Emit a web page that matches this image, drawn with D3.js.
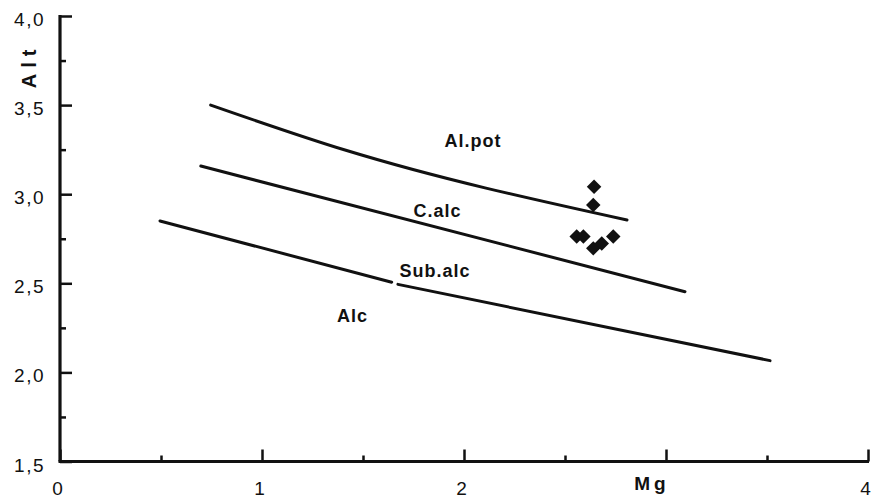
<!DOCTYPE html>
<html>
<head>
<meta charset="utf-8">
<script src="https://cdn.jsdelivr.net/npm/d3@7"></script>
<style>
  body { margin: 0; background: #ffffff; }
  text { font-family: "Liberation Sans", Arial, Helvetica, sans-serif; fill: #111; }
</style>
</head>
<body>
<div id="wrapper"></div>
<script>
// boundary lines (Mg, Alt)
const alPotLine = [[0.746, 3.50], [1.411, 3.248], [2.807, 2.855]];
const cAlcLine = [[0.697, 3.158], [3.094, 2.453]];
const alcLineLeft = [[0.495, 2.850], [1.642, 2.506]];
const alcLineRight = [[1.673, 2.494], [3.515, 2.066]];

// samples
const sampleMg = [2.644, 2.640, 2.558, 2.591, 2.640, 2.682, 2.739];
const sampleAlt = [3.042, 2.939, 2.762, 2.762, 2.696, 2.724, 2.762];

// ticks
const xTicks = [0, 1, 2, 4];
const xMinorTicks = [0.5, 1.5, 2.5, 3.5];
const yTicks = [1.5, 2.0, 2.5, 3.0, 3.5, 4.0];
const yTickLabels = ["1,5", "2,0", "2,5", "3,0", "3,5", "4,0"];
const yMinorTicks = [1.75, 2.25, 2.75, 3.25, 3.75];

// field names
const fieldNames = ["Al.pot", "C.alc", "Sub.alc", "Alc"];
const fieldMg = [2.045, 1.869, 1.856, 1.448];
const fieldAlt = [3.267, 2.872, 2.535, 2.283];

dimensions = {
  width: 879,
  height: 504,
  margin: {top: 16, left: 60, bottom: 42.5, right: 11}
}
dimensions.boundedWidth = dimensions.width - dimensions.margin.left - dimensions.margin.right;
dimensions.boundedHeight = dimensions.height - dimensions.margin.top - dimensions.margin.bottom;

wrapper = d3.select("#wrapper").append("svg")
  .attr("width", dimensions.width)
  .attr("height", dimensions.height);
wrapper.append("rect").attr("width", dimensions.width).attr("height", dimensions.height).attr("fill", "#fff");
container = wrapper.append("g")
  .attr("transform", `translate(${dimensions.margin.left}, ${dimensions.margin.top})`);

xScale = d3.scaleLinear().domain([0, 4]).range([0, dimensions.boundedWidth]);
yScale = d3.scaleLinear().domain([1.5, 4]).range([dimensions.boundedHeight, 0]);

// axes: ticks point inward
const xMajor = d3.axisBottom(xScale).tickValues([0, 1, 2, 3, 4]).tickSize(-12).tickFormat("");
const xMinor = d3.axisBottom(xScale).tickValues(xMinorTicks).tickSize(-6).tickFormat("");
const yMajor = d3.axisLeft(yScale).tickValues(yTicks).tickSize(-12).tickFormat("");
const yMinor = d3.axisLeft(yScale).tickValues(yMinorTicks).tickSize(-6).tickFormat("");

[xMajor, xMinor].forEach(ax => {
  container.append("g")
    .attr("transform", `translate(0, ${dimensions.boundedHeight})`)
    .call(ax);
});
[yMajor, yMinor].forEach(ax => {
  container.append("g").call(ax);
});
container.selectAll(".tick line").attr("stroke", "#111").attr("stroke-width", 2.5);
container.selectAll(".domain").remove();

// axis lines
container.append("line")
  .attr("x1", -1.5).attr("x2", xScale(4) + 1)
  .attr("y1", yScale(1.5)).attr("y2", yScale(1.5))
  .attr("stroke", "#111").attr("stroke-width", 3.2);
container.append("line")
  .attr("x1", 0).attr("x2", 0)
  .attr("y1", yScale(1.5)).attr("y2", yScale(4) - 1)
  .attr("stroke", "#111").attr("stroke-width", 3.2);

// tick labels
container.selectAll(".xlab")
  .data(xTicks)
  .enter()
  .append("text")
  .attr("class", "xlab")
  .attr("x", d => xScale(d) - 2)
  .attr("y", dimensions.boundedHeight + 33)
  .attr("text-anchor", "middle")
  .style("font-size", "19px")
  .style("letter-spacing", "1px")
  .text(d => d);

container.selectAll(".ylab")
  .data(yTicks)
  .enter()
  .append("text")
  .attr("class", "ylab")
  .attr("x", -15)
  .attr("y", d => yScale(d) + 10)
  .attr("text-anchor", "end")
  .style("font-size", "19px")
  .style("letter-spacing", "1.5px")
  .text((d, i) => yTickLabels[i]);

// axis titles
container.append("text")
  .attr("x", xScale(3) - 14)
  .attr("y", dimensions.boundedHeight + 28)
  .attr("text-anchor", "middle")
  .style("font-size", "19px")
  .style("font-weight", "bold")
  .style("letter-spacing", "4px")
  .text("Mg");
container.append("text")
  .attr("transform", `translate(${-24}, ${yScale(3.72)}) rotate(-90)`)
  .attr("text-anchor", "middle")
  .style("font-size", "20px")
  .style("font-weight", "bold")
  .style("letter-spacing", "6px")
  .text("Alt");

// boundary lines
const line = d3.line().x(d => xScale(d[0])).y(d => yScale(d[1])).curve(d3.curveMonotoneX);
[alPotLine, cAlcLine, alcLineLeft, alcLineRight].forEach(l => {
  container.append("path")
    .attr("d", line(l))
    .attr("fill", "none")
    .attr("stroke", "#111")
    .attr("stroke-width", 3)
    .attr("stroke-linecap", "round");
});

// field labels
container.selectAll(".field")
  .data(fieldNames)
  .enter()
  .append("text")
  .attr("class", "field")
  .attr("x", (d, i) => xScale(fieldMg[i]))
  .attr("y", (d, i) => yScale(fieldAlt[i]))
  .attr("text-anchor", "middle")
  .style("font-size", "18px")
  .style("font-weight", "bold")
  .style("letter-spacing", "1px")
  .text(d => d);

// samples as diamonds
container.selectAll(".sample")
  .data(sampleMg)
  .enter()
  .append("path")
  .attr("class", "sample")
  .attr("d", d3.symbol().type(d3.symbolSquare).size(105))
  .attr("fill", "#111")
  .attr("transform", (d, i) => `translate(${xScale(d)}, ${yScale(sampleAlt[i])}) rotate(45)`);
</script>
</body>
</html>
